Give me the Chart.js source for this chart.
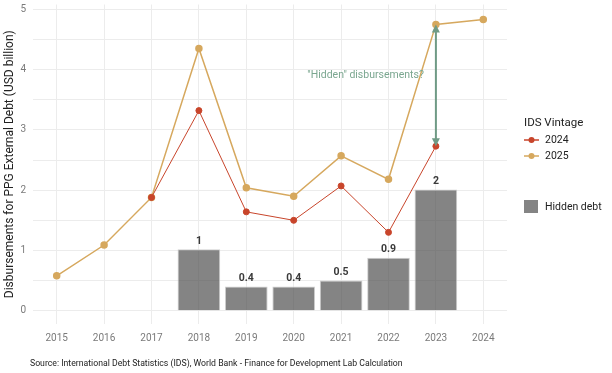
<!DOCTYPE html>
<html lang="en">
<head>
    <meta charset="UTF-8">
    <title>Hidden disbursements</title>
    <script src="https://cdn.jsdelivr.net/npm/chart.js"></script>
    <style>
        body { margin: 0; background: #ffffff; }
        #wrap { width: 612px; height: 373px; }
    </style>
</head>
<body>
    <div id="wrap"><canvas id="chart"></canvas></div>

    <script>
        // Data
        const years = ['2015', '2016', '2017', '2018', '2019', '2020', '2021', '2022', '2023', '2024'];
        const vintage2024 = [null, null, 1.88, 3.32, 1.64, 1.50, 2.07, 1.30, 2.73, null];
        const vintage2025 = [0.58, 1.09, 1.88, 4.35, 2.04, 1.90, 2.57, 2.18, 4.75, 4.83];
        const hiddenDebt = [null, null, null, 1.02, 0.40, 0.40, 0.50, 0.88, 2.01, null];
        const hiddenLabels = [null, null, null, '1', '0.4', '0.4', '0.5', '0.9', '2', null];
        const yTicks = [0, 1, 2, 3, 4, 5];

        const FONT = 'Roboto, sans-serif';
        const red = '#c8452b';
        const gold = '#d6a85e';
        const arrowGreen = '#6f9a85';
        const barFill = 'rgba(80, 80, 80, 0.7)';

        // Extra drawing: bar labels, arrow, annotation, legend, caption
        const extras = {
            id: 'extras',
            afterDatasetsDraw(chart) {
                const ctx = chart.ctx;
                const x = chart.scales.x;
                const y = chart.scales.y;

                // bar value labels
                ctx.save();
                ctx.font = 'bold 10.5px ' + FONT;
                ctx.fillStyle = '#3a3a3a';
                ctx.textAlign = 'center';
                ctx.textBaseline = 'bottom';
                hiddenDebt.forEach((v, i) => {
                    if (v === null) return;
                    ctx.fillText(hiddenLabels[i], x.getPixelForValue(i), y.getPixelForValue(v) - 3);
                });
                ctx.restore();

                // double arrow at 2023
                const i23 = years.indexOf('2023');
                const ax = x.getPixelForValue(i23);
                const yTop = y.getPixelForValue(vintage2025[i23]);
                const yBot = y.getPixelForValue(vintage2024[i23]);
                ctx.save();
                ctx.strokeStyle = arrowGreen;
                ctx.fillStyle = arrowGreen;
                ctx.lineWidth = 2;
                ctx.beginPath();
                ctx.moveTo(ax, yTop + 6);
                ctx.lineTo(ax, yBot - 6);
                ctx.stroke();
                ctx.beginPath();
                ctx.moveTo(ax, yTop);
                ctx.lineTo(ax - 4, yTop + 8);
                ctx.lineTo(ax + 4, yTop + 8);
                ctx.closePath();
                ctx.fill();
                ctx.beginPath();
                ctx.moveTo(ax, yBot);
                ctx.lineTo(ax - 4, yBot - 8);
                ctx.lineTo(ax + 4, yBot - 8);
                ctx.closePath();
                ctx.fill();

                ctx.font = '10.5px ' + FONT;
                ctx.fillStyle = '#7ba790';
                ctx.textAlign = 'right';
                ctx.textBaseline = 'middle';
                ctx.fillText('"Hidden" disbursements?', ax - 12, y.getPixelForValue(3.9));
                ctx.restore();
            },
            afterDraw(chart) {
                const ctx = chart.ctx;
                const lx = chart.chartArea.right + 17;
                ctx.save();
                ctx.textBaseline = 'middle';
                ctx.textAlign = 'left';
                ctx.fillStyle = '#222';
                ctx.font = '11.5px ' + FONT;
                ctx.fillText('IDS Vintage', lx, 123);

                [[red, '2024', 140], [gold, '2025', 156]].forEach(([c, t, yy]) => {
                    ctx.strokeStyle = c;
                    ctx.fillStyle = c;
                    ctx.lineWidth = 1.5;
                    ctx.beginPath();
                    ctx.moveTo(lx, yy);
                    ctx.lineTo(lx + 15, yy);
                    ctx.stroke();
                    ctx.beginPath();
                    ctx.arc(lx + 7.5, yy, 3, 0, Math.PI * 2);
                    ctx.fill();
                    ctx.fillStyle = '#222';
                    ctx.font = '10.5px ' + FONT;
                    ctx.fillText(t, lx + 21, yy);
                });

                ctx.fillStyle = barFill;
                ctx.fillRect(lx, 200, 14, 13);
                ctx.fillStyle = '#222';
                ctx.font = '10.5px ' + FONT;
                ctx.fillText('Hidden debt', lx + 21, 207);

                ctx.fillStyle = '#222';
                ctx.font = '8.7px ' + FONT;
                ctx.fillText('Source: International Debt Statistics (IDS), World Bank - Finance for Development Lab Calculation', 30, 364);
                ctx.restore();
            }
        };

        new Chart(document.getElementById('chart').getContext('2d'), {
            data: {
                labels: years,
                datasets: [
                    {
                        type: 'line',
                        label: '2025',
                        data: vintage2025,
                        borderColor: gold,
                        backgroundColor: gold,
                        borderWidth: 1.5,
                        pointRadius: 3,
                        pointHoverRadius: 3,
                        tension: 0,
                        order: 1
                    },
                    {
                        type: 'line',
                        label: '2024',
                        data: vintage2024,
                        borderColor: red,
                        backgroundColor: red,
                        borderWidth: 1,
                        pointRadius: 3,
                        pointHoverRadius: 3,
                        tension: 0,
                        order: 0
                    },
                    {
                        type: 'bar',
                        label: 'Hidden debt',
                        data: hiddenDebt,
                        backgroundColor: barFill,
                        borderColor: '#cfcfcf',
                        borderWidth: 1,
                        barPercentage: 0.9,
                        categoryPercentage: 1,
                        order: 2
                    }
                ]
            },
            options: {
                responsive: true,
                maintainAspectRatio: false,
                animation: false,
                layout: { padding: { top: 4, right: 105, bottom: 21, left: 0 } },
                plugins: {
                    legend: { display: false },
                    tooltip: { enabled: false }
                },
                scales: {
                    x: {
                        offset: true,
                        grid: { color: '#ececec', offset: false, drawTicks: false },
                        border: { display: false },
                        ticks: { color: '#7a7a7a', font: { family: FONT, size: 10 }, padding: 8 }
                    },
                    y: {
                        min: -0.22,
                        max: 5.08,
                        afterBuildTicks: s => {
                            const t = [];
                            for (let v = 0; v <= 5; v += 0.5) t.push({ value: v });
                            s.ticks = t;
                        },
                        afterFit: s => {
                            s.width = 33;
                            s.paddingTop = 0;
                            s.paddingBottom = 0;
                        },
                        grid: { color: '#ececec', drawTicks: false },
                        border: { display: false },
                        ticks: {
                            color: '#7a7a7a',
                            font: { family: FONT, size: 10 },
                            padding: 7,
                            callback: v => yTicks.includes(v) ? String(v) : ''
                        },
                        title: {
                            display: true,
                            text: 'Disbursements for PPG External Debt (USD billion)',
                            color: '#222',
                            font: { family: FONT, size: 12 },
                            padding: { top: 3, bottom: 2 }
                        }
                    }
                }
            },
            plugins: [extras]
        });
    </script>
</body>
</html>
